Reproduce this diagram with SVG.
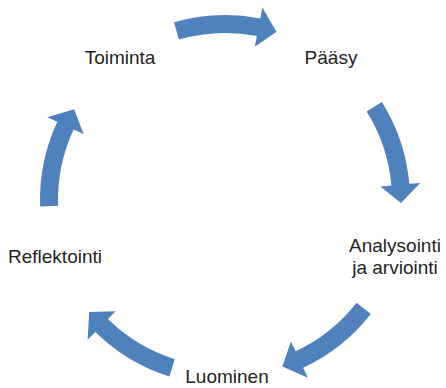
<svg xmlns="http://www.w3.org/2000/svg" xmlns:xlink="http://www.w3.org/1999/xlink" width="446" height="388" viewBox="0 0 446 388">
  <style>
    .lbl { font-family: "Liberation Sans", Arial, sans-serif; font-size: 19px; fill: #1f1f1f; text-anchor: middle; }
    .arr { fill: #4F81BD; }
  </style>
  <defs>
    <path id="carrow" d="M -52.54 -177.38 A 185 185 0 0 1 33.71 -181.91 L 35.71 -192.73 L 49.98 -168.75 L 28.42 -153.39 L 30.43 -164.21 A 167 167 0 0 0 -47.43 -160.12 Z"/>
  </defs>
  <rect width="446" height="388" fill="#ffffff"/>
  <g id="connectors" class="arr">
    <use xlink:href="#carrow" href="#carrow" transform="translate(225,200) rotate(0.5)"/>
    <use xlink:href="#carrow" href="#carrow" transform="translate(225,200) rotate(74.5)"/>
    <use xlink:href="#carrow" href="#carrow" transform="translate(225,200) rotate(144.5)"/>
    <use xlink:href="#carrow" href="#carrow" transform="translate(225,200) rotate(214)"/>
    <use xlink:href="#carrow" href="#carrow" transform="translate(225,200) rotate(284.5)"/>
  </g>
  <g id="toiminta"><text class="lbl" x="120" y="64">Toiminta</text></g>
  <g id="paasy"><text class="lbl" x="331" y="64">Pääsy</text></g>
  <g id="analysointi"><text class="lbl" x="395" y="252">Analysointi</text><text class="lbl" x="395" y="274">ja arviointi</text></g>
  <g id="luominen"><text class="lbl" x="227" y="383">Luominen</text></g>
  <g id="reflektointi"><text class="lbl" x="55" y="263">Reflektointi</text></g>
</svg>
